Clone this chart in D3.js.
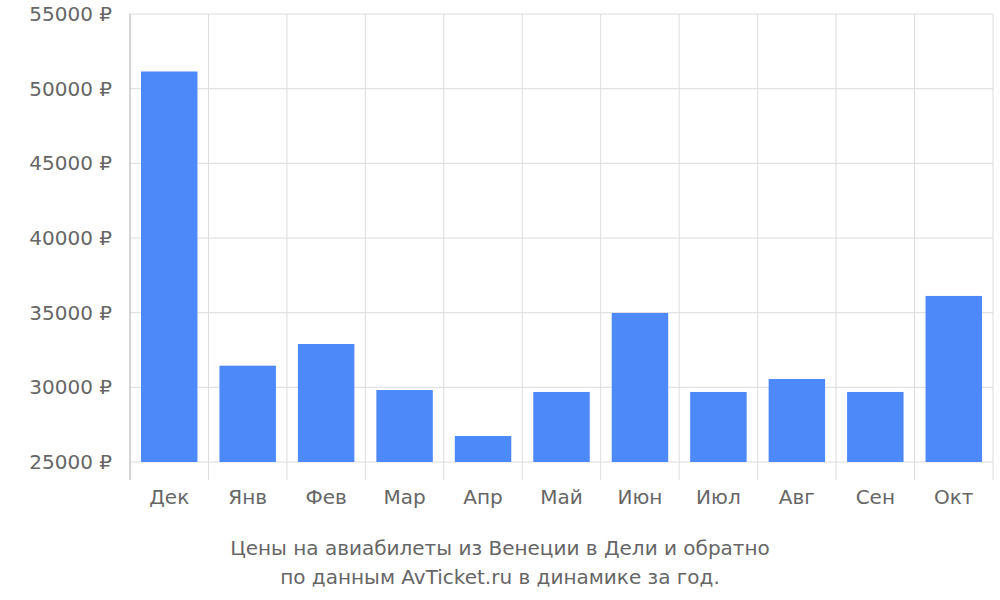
<!DOCTYPE html>
<html><head><meta charset="utf-8">
<script src="https://cdn.jsdelivr.net/npm/d3@7"></script>
<style>body{margin:0;background:#fff}text{font-family:"DejaVu Sans",sans-serif;fill:#666}</style>
</head><body><svg id="c" width="1000" height="600"></svg>
<script>
const months = ["Дек","Янв","Фев","Мар","Апр","Май","Июн","Июл","Авг","Сен","Окт"];
const prices = [51150,31450,32900,29820,26740,29690,34980,29690,30560,29690,36120];
const yTicks = [25000,30000,35000,40000,45000,50000,55000];
const titleLines = ["Цены на авиабилеты из Венеции в Дели и обратно","по данным AvTicket.ru в динамике за год."];

const svg = d3.select("#c");
const mLeft = 130, mRight = 993, mTop = 14, mBottom = 462;
const x = d3.scaleBand().domain(months).range([mLeft, mRight]).paddingInner(0.28).paddingOuter(0.14);
const xb = d3.scaleBand().domain(months).range([mLeft, mRight]);
const y = d3.scaleLinear().domain([25000,55000]).range([mBottom, mTop]);

// horizontal grid
svg.selectAll(".hg").data(yTicks).join("line")
  .attr("x1", mLeft).attr("x2", mRight).attr("y1", d => y(d)).attr("y2", d => y(d))
  .attr("stroke", "#ddd");
// vertical grid
const vb = months.map(m => xb(m)).slice(1).concat([mRight]);
svg.selectAll(".vg").data(vb).join("line")
  .attr("x1", d => d).attr("x2", d => d).attr("y1", mTop).attr("y2", 480)
  .attr("stroke", "#ddd");
svg.append("line").attr("x1", mLeft).attr("x2", mLeft).attr("y1", mTop).attr("y2", 480).attr("stroke", "#aaa");

svg.selectAll(".bar").data(prices).join("rect")
  .attr("x", (d,i) => x(months[i])).attr("width", x.bandwidth())
  .attr("y", d => y(d)).attr("height", d => mBottom - y(d))
  .attr("fill", "#4d89f9");

svg.selectAll(".yl").data(yTicks).join("text")
  .attr("x", 112).attr("y", d => y(d)).attr("dy", "0.35em")
  .attr("text-anchor", "end").attr("font-size", 20)
  .text(d => d + " ₽");
svg.selectAll(".xl").data(months).join("text")
  .attr("x", d => xb(d) + xb.bandwidth()/2).attr("y", 504)
  .attr("text-anchor", "middle").attr("font-size", 20).text(d => d);
svg.selectAll(".tl").data(titleLines).join("text")
  .attr("x", 500).attr("y", (d,i) => 555 + i*29)
  .attr("text-anchor", "middle").attr("font-size", 20).text(d => d);
</script></body></html>
